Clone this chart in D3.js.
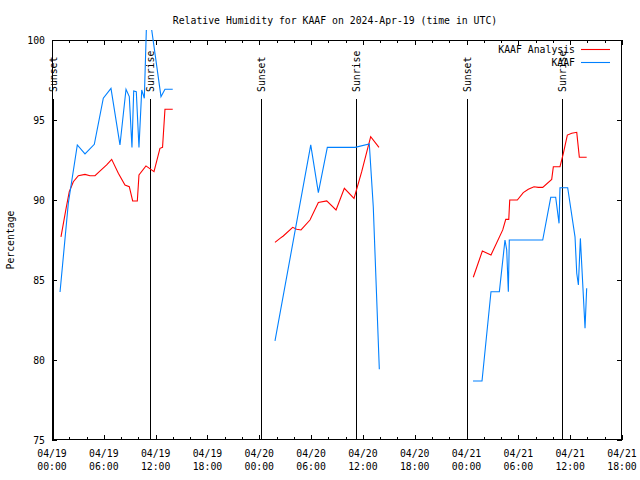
<!DOCTYPE html>
<html><head><meta charset="utf-8">
<script src="https://cdn.jsdelivr.net/npm/d3@7"></script>
<style>body{margin:0;background:#fff}svg{display:block}text{font-family:"DejaVu Sans Mono",monospace;font-size:9.8px;fill:#000}</style>
</head><body>
<script>
// hours since 2024-04-19 00:00 UTC
const analysisHours = [1.04,1.62,2.0,2.47,3.05,3.82,4.4,4.98,5.48,6.33,6.91,7.68,8.45,8.95,9.34,9.88,10.07,10.88,11.81,12.5,12.8,13.08,13.98,
  null,
  25.82,26.4,26.78,27.87,28.33,28.83,29.87,30.84,31.81,32.89,33.85,34.97,35.86,36.9,37.86,
  null,
  48.78,49.83,50.83,52.19,52.54,52.89,53.0,53.88,54.57,55.15,55.81,56.31,56.82,57.86,58.05,58.82,59.21,59.67,60.18,60.76,61.06,61.91];
const analysisValues = [87.7,89.44,90.52,91.14,91.52,91.6,91.52,91.52,91.77,92.19,92.54,91.67,90.94,90.83,89.94,89.94,91.56,92.13,91.77,93.23,93.29,95.67,95.67,
  null,
  87.35,87.6,87.75,88.29,88.17,88.13,88.75,89.85,89.94,89.38,90.73,90.1,91.77,93.96,93.29,
  null,
  85.17,86.81,86.56,88.13,88.79,88.79,90.0,90.0,90.46,90.67,90.83,90.79,90.79,91.29,92.08,92.08,92.92,94.06,94.17,94.23,92.67,92.67];
const obsHours = [0.93,1.89,2.93,3.82,4.9,5.94,6.83,7.87,8.57,8.95,9.26,9.46,9.76,10.07,10.39,10.69,10.97,11.32,12.62,13.08,13.98,
  null,
  25.82,29.96,30.84,31.88,35.09,36.74,37.2,37.9,
  null,
  48.75,49.79,50.83,51.8,52.45,52.65,52.84,52.95,56.82,57.75,58.32,58.71,58.82,59.71,60.56,60.76,60.95,61.18,61.72,61.91];
const obsValues = [84.25,89.8,93.44,92.88,93.48,96.36,96.98,93.44,96.92,96.46,93.29,96.81,96.77,93.29,96.88,96.36,101.5,101.5,96.46,96.92,96.92,
  null,
  81.19,93.44,90.46,93.29,93.29,93.5,89.58,79.42,
  null,
  78.69,78.69,84.27,84.27,87.5,86.88,84.27,87.5,87.5,90.17,90.17,88.54,90.77,90.77,87.7,85.42,84.69,87.6,81.98,84.48];
const eventHours = [0.15,11.3,24.15,35.15,48.1,59.08];
const eventLabels = ["Sunset","Sunrise","Sunset","Sunrise","Sunset","Sunrise"];
const xTickDates = ["04/19","04/19","04/19","04/19","04/20","04/20","04/20","04/20","04/21","04/21","04/21","04/21"];
const xTickTimes = ["00:00","06:00","12:00","18:00","00:00","06:00","12:00","18:00","00:00","06:00","12:00","18:00"];
const yTicks = [75,80,85,90,95,100];
const seriesNames = ["KAAF Analysis","KAAF"];
const seriesColors = ["#ff0000","#0080ff"];
const title = "Relative Humidity for KAAF on 2024-Apr-19 (time in UTC)";
const yLabel = "Percentage";

const W=640,H=480, L=52, R=622, T=40, B=440;
const svg = d3.select("body").append("svg").attr("width",W).attr("height",H);
const x = d3.scaleLinear().domain([0,66]).range([L,R]);
const y = d3.scaleLinear().domain([75,100]).range([B,T]);

svg.append("defs").append("clipPath").attr("id","clip").append("rect")
  .attr("x",L).attr("y",30).attr("width",R-L).attr("height",B-30);

// title
svg.append("text").attr("x",335).attr("y",23.5).attr("text-anchor","middle").text(title);
// y label
svg.append("text").attr("transform","translate(14,240) rotate(-90)").attr("text-anchor","middle").text(yLabel);

// border
svg.append("rect").attr("x",L+0.5).attr("y",T+0.5).attr("width",R-L-1).attr("height",B-T-1)
  .attr("fill","none").attr("stroke","#000").attr("stroke-width",1);

// y ticks
const gy = svg.append("g");
yTicks.forEach(v=>{
  const yy = Math.round(y(v))+0.5;
  gy.append("line").attr("x1",L).attr("x2",L+5).attr("y1",yy).attr("y2",yy).attr("stroke","#000");
  gy.append("line").attr("x1",R-5).attr("x2",R).attr("y1",yy).attr("y2",yy).attr("stroke","#000");
  gy.append("text").attr("x",45).attr("y",yy+3.5).attr("text-anchor","end").text(v);
});

// x ticks (major every 6h, minor every 2h)
const gx = svg.append("g");
d3.range(0,67,2).forEach(h=>{
  const xx = Math.round(x(h))+0.5;
  const len = (h%6===0)?5:3;
  gx.append("line").attr("x1",xx).attr("x2",xx).attr("y1",B).attr("y2",B-len).attr("stroke","#000");
  gx.append("line").attr("x1",xx).attr("x2",xx).attr("y1",T).attr("y2",T+len).attr("stroke","#000");
});
xTickDates.forEach((d,i)=>{
  const xx = x(i*6);
  gx.append("text").attr("x",xx).attr("y",457).attr("text-anchor","middle").text(d);
  gx.append("text").attr("x",xx).attr("y",470).attr("text-anchor","middle").text(xTickTimes[i]);
});

// sunrise / sunset markers
eventHours.forEach((h,i)=>{
  const xx = Math.round(x(h))+0.5;
  svg.append("line").attr("x1",xx).attr("x2",xx).attr("y1",99).attr("y2",B).attr("stroke","#000");
  svg.append("text").attr("transform",`translate(${xx+3.5},92) rotate(-90)`).attr("text-anchor","start").text(eventLabels[i]);
});

// series
function series(hs,vs){return hs.map((h,i)=>({h,v:vs[i]}));}
const line = d3.line().defined(d=>d.h!==null && d.v!==null).x(d=>x(d.h)).y(d=>y(d.v));
const data = [series(analysisHours,analysisValues), series(obsHours,obsValues)];
data.forEach((s,i)=>{
  svg.append("path").attr("clip-path","url(#clip)").attr("d",line(s)).attr("fill","none")
    .attr("stroke",seriesColors[i]).attr("stroke-width",1.1);
});

// legend
seriesNames.forEach((n,i)=>{
  const yy = 49.5 + i*13;
  svg.append("text").attr("x",575).attr("y",yy+3.5).attr("text-anchor","end").text(n);
  svg.append("line").attr("x1",581).attr("x2",610).attr("y1",yy).attr("y2",yy).attr("stroke",seriesColors[i]).attr("stroke-width",1.1);
});
</script>
</body></html>
